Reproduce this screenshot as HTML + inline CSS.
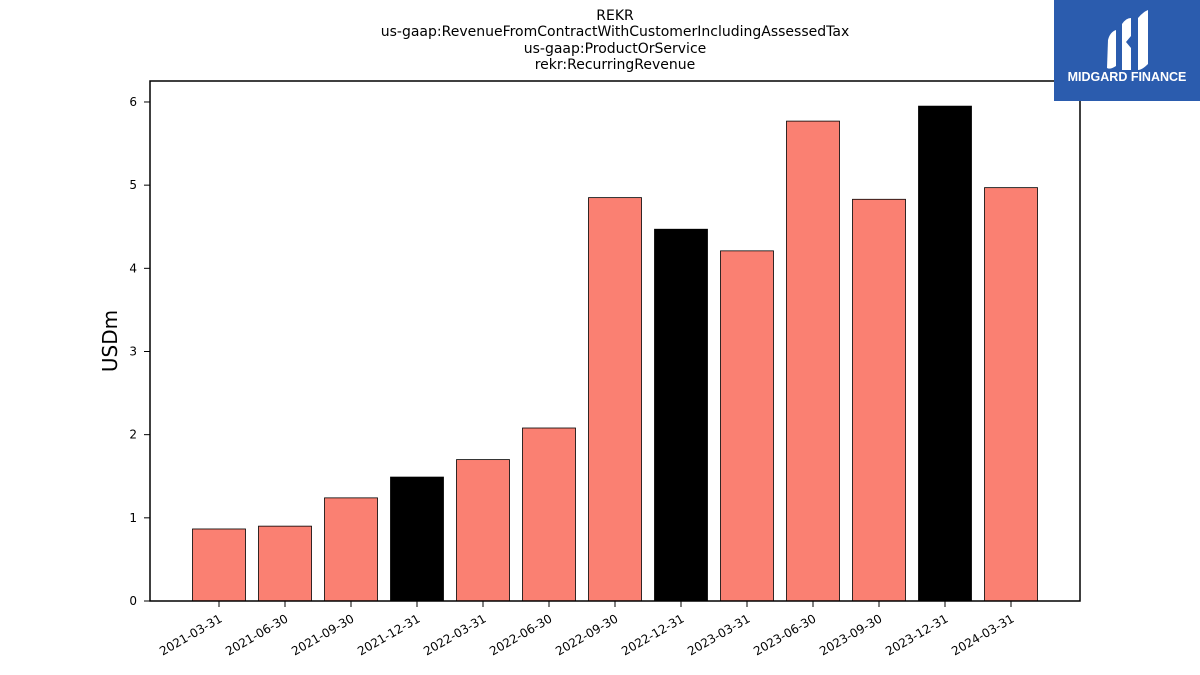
<!DOCTYPE html>
<html><head><meta charset="utf-8">
<style>
body{margin:0;background:#fff;width:1200px;height:675px;overflow:hidden;font-family:"Liberation Sans","DejaVu Sans",sans-serif;}
</style></head>
<body>
<svg id="chart" width="1200" height="675" xmlns="http://www.w3.org/2000/svg" style="position:absolute;left:0;top:0">
<g font-family="DejaVu Sans, Liberation Sans, sans-serif" font-size="14" text-anchor="middle" fill="#000">
<text x="615" y="20">REKR</text>
<text x="615" y="36">us-gaap:RevenueFromContractWithCustomerIncludingAssessedTax</text>
<text x="615" y="53">us-gaap:ProductOrService</text>
<text x="615" y="69">rekr:RecurringRevenue</text>
</g>
<text transform="translate(117,341) rotate(-90)" text-anchor="middle" font-family="DejaVu Sans, Liberation Sans, sans-serif" font-size="20">USDm</text>
<g id="bars"></g>
<g id="yticks"></g>
<g id="xticks"></g>
<rect x="150" y="81" width="930" height="520" fill="none" stroke="#000" stroke-width="1.5"/>
<g>
<rect x="1054" y="0" width="146" height="101" fill="#2b5cae"/>
<path d="M1108 40 Q1110 32 1116 30 L1116 66 Q1110 70 1107 68 Z" fill="#fff"/>
<path d="M1122 24 Q1126 18 1131 18 L1131 36 L1126 42 L1131 48 L1131 70 L1122 70 Z" fill="#fff"/>
<path d="M1138 18 Q1143 12 1148 10 L1148 64 Q1142 70 1138 70 Z" fill="#fff"/>
<text x="1127" y="81" text-anchor="middle" font-family="Liberation Sans, sans-serif" font-weight="bold" font-size="12.5" fill="#fff">MIDGARD FINANCE</text>
</g>
</svg>
<script>
const categories=["2021-03-31","2021-06-30","2021-09-30","2021-12-31","2022-03-31","2022-06-30","2022-09-30","2022-12-31","2023-03-31","2023-06-30","2023-09-30","2023-12-31","2024-03-31"];
const values=[0.866,0.90,1.24,1.49,1.70,2.08,4.85,4.47,4.21,5.77,4.83,5.95,4.97];
const isAnnual=[false,false,false,true,false,false,false,true,false,false,false,true,false];
const yTicks=[0,1,2,3,4,5,6];
const NS="http://www.w3.org/2000/svg";
const y=v=>601-v*83.17;
const x=i=>219+i*66;
const bw=53;
const gb=document.getElementById('bars'),gy=document.getElementById('yticks'),gx=document.getElementById('xticks');
categories.forEach((c,i)=>{
 const r=document.createElementNS(NS,'rect');
 
 
 r.setAttribute('x',x(i)-bw/2);r.setAttribute('y',y(values[i]));
 r.setAttribute('width',bw);r.setAttribute('height',601-y(values[i]));
 r.setAttribute('fill',isAnnual[i]?'#000':'#fa8072');r.setAttribute('stroke','#000');r.setAttribute('stroke-width','0.8');
 gb.appendChild(r);
 const t=document.createElementNS(NS,'line');
 
 
 t.setAttribute('x1',x(i));t.setAttribute('x2',x(i));t.setAttribute('y1',601);t.setAttribute('y2',607);t.setAttribute('stroke','#000');
 gx.appendChild(t);
 const l=document.createElementNS(NS,'text');
 
 
 l.setAttribute('transform','translate('+(x(i)+4)+',621) rotate(-30)');
 l.setAttribute('text-anchor','end');l.setAttribute('font-size','12');l.setAttribute('font-family','DejaVu Sans, Liberation Sans, sans-serif');
 l.textContent=c;gx.appendChild(l);
});
yTicks.forEach(v=>{
 const t=document.createElementNS(NS,'line');
 
 
 t.setAttribute('x1',144);t.setAttribute('x2',150);t.setAttribute('y1',y(v));t.setAttribute('y2',y(v));t.setAttribute('stroke','#000');
 gy.appendChild(t);
 const l=document.createElementNS(NS,'text');
 
 
 l.setAttribute('x',137);l.setAttribute('y',y(v)+4);l.setAttribute('text-anchor','end');l.setAttribute('font-size','12');l.setAttribute('font-family','DejaVu Sans, Liberation Sans, sans-serif');
 l.textContent=v;gy.appendChild(l);
});
</script>
</body></html>
